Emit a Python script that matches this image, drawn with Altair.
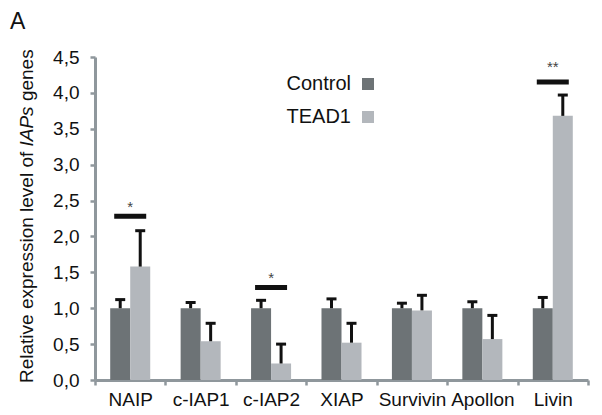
import altair as alt
import pandas as pd

genes = ["NAIP", "c-IAP1", "c-IAP2", "XIAP", "Survivin", "Apollon", "Livin"]
groups = ["Control", "TEAD1"]
control_mean = [1.0, 1.0, 1.0, 1.0, 1.0, 1.0, 1.0]
control_upper = [1.12, 1.08, 1.11, 1.13, 1.07, 1.09, 1.15]
tead1_mean = [1.58, 0.54, 0.23, 0.52, 0.97, 0.57, 3.68]
tead1_upper = [2.08, 0.79, 0.50, 0.79, 1.18, 0.90, 3.97]
sig_genes = ["NAIP", "c-IAP2", "Livin"]
sig_line = [2.28, 1.29, 4.15]
sig_star_y = [2.41, 1.42, 4.36]
sig_labels = ["*", "*", "**"]
y_ticks = [0, 0.5, 1.0, 1.5, 2.0, 2.5, 3.0, 3.5, 4.0, 4.5]

rows = []
for i, g in enumerate(genes):
    rows.append({"gene": g, "group": "Control", "mean": control_mean[i], "upper": control_upper[i]})
    rows.append({"gene": g, "group": "TEAD1", "mean": tead1_mean[i], "upper": tead1_upper[i]})
df = pd.DataFrame(rows)
sig = pd.DataFrame({"gene": sig_genes, "line": sig_line, "star": sig_star_y, "label": sig_labels})

FONT = "Liberation Sans"
AXIS_GRAY = "#8f979c"
C_DARK = "#6d7376"
C_LIGHT = "#b3b7bc"

xscale = alt.Scale(domain=genes, paddingInner=0, paddingOuter=0)
xoff = alt.XOffset("group:N", scale=alt.Scale(domain=groups, paddingInner=0, paddingOuter=0.76))
yscale = alt.Scale(domain=[0, 4.5], nice=False)

x_axis = alt.Axis(
    title=None, labelAngle=0, tickBand="extent", domainColor=AXIS_GRAY, domainWidth=3,
    tickColor=AXIS_GRAY, tickWidth=2.5, tickSize=5, labelFontSize=19, labelPadding=5,
    labelFont=FONT, labelColor="#111", grid=False, labelOverlap=False)

y_axis = alt.Axis(
    title=None, values=y_ticks, labelExpr="replace(format(datum.value,'.1f'),'.',',')",
    labelOverlap=False, labelFlush=False,
    domainColor=AXIS_GRAY, domainWidth=3, tickColor=AXIS_GRAY, tickWidth=2.5, tickSize=5,
    labelFontSize=19, labelPadding=11, labelFont=FONT, labelColor="#111", grid=False)

def xn():
    return alt.X("gene:N", sort=genes, scale=xscale, axis=x_axis)

def yq(field):
    return alt.Y(field, scale=yscale, axis=y_axis)

bars = alt.Chart(df).mark_bar().encode(
    x=xn(), xOffset=xoff, y=yq("mean:Q"),
    color=alt.Color("group:N", scale=alt.Scale(domain=groups, range=[C_DARK, C_LIGHT]),
                    legend=alt.Legend(title=None, orient="none", legendX=263, legendY=17,
                                      symbolType="square", symbolSize=144, symbolStrokeWidth=0,
                                      symbolOpacity=1,
                                      labelFontSize=20, labelFont=FONT, labelColor="#111",
                                      labelAlign="right", labelOffset={"expr": "-27"}, padding=0,
                                      rowPadding=13)),
)

err = alt.Chart(df).mark_rule(color="#111", strokeWidth=3, opacity=1).encode(
    x=xn(), xOffset=xoff, y=yq("mean:Q"), y2="upper:Q")

cap = alt.Chart(df).mark_tick(color="#111", thickness=3, size=10, opacity=1).encode(
    x=xn(), xOffset=xoff, y=yq("upper:Q"))

sig_bar = alt.Chart(sig).mark_tick(color="#111", thickness=5, size=32, opacity=1).encode(
    x=xn(), y=yq("line:Q"))

stars = alt.Chart(sig).mark_text(font=FONT, fontSize=15, color="#444", baseline="middle").encode(
    x=xn(), y=yq("star:Q"), text="label:N")

def label(txt, x, y, size=19, style="normal", angle=270):
    return alt.Chart(pd.DataFrame({"t": [txt]})).mark_text(
        font=FONT, fontSize=size, fontStyle=style, angle=angle, align="left",
        baseline="alphabetic", color="#111").encode(text="t:N", x=alt.value(x), y=alt.value(y))

t1 = label("Relative expression level of", -62, 326)
t2 = label("IAPs", -62, 89.5, style="italic")
t3 = label("genes", -62, 44.1)
panel = label("A", -85, -28, size=23, angle=0)

chart = alt.layer(bars, err, cap, sig_bar, stars, t1, t2, t3, panel).properties(
    width=493, height=323,
    autosize=alt.AutoSizeParams(type="none"),
    padding={"left": 95, "top": 57, "right": 14, "bottom": 35},
).configure_view(stroke=None)

chart.save("out.html", embed_options={"renderer": "svg", "actions": False})
